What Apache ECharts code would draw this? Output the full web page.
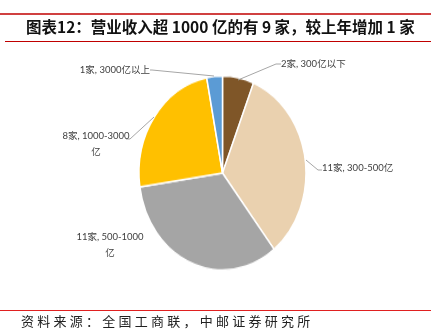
<!DOCTYPE html>
<html>
<head>
<meta charset="utf-8">
<script src="https://cdn.jsdelivr.net/npm/echarts@6/dist/echarts.min.js"></script>
<style>
html,body{margin:0;padding:0;background:#fff;}
#wrap{position:relative;width:434px;height:335px;overflow:hidden;}
#pie{position:absolute;left:0;top:0;width:434px;height:335px;transform:scaleY(1.162);transform-origin:222.5px 173px;}
#c{position:absolute;left:0;top:0;width:434px;height:335px;}
</style>
</head>
<body>
<div id="wrap"><div id="pie"></div><div id="c"></div></div>
<script>
var categories = ['2家, 300亿以下', '11家, 300-500亿', '11家, 500-1000\n亿', '8家, 1000-3000\n亿', '1家, 3000亿以上'];
var counts = [2, 11, 11, 8, 1];
var colors = ['#7F5628', '#EAD1AF', '#A5A5A5', '#FFC000', '#5B9BD5'];

// label layout (text anchor + line points), in px
var labelLayouts = [
  {x: 281, y: 64, align: 'left', line: [[238, 80], [276, 64], [281, 64]]},
  {x: 322, y: 168, align: 'left', line: [[306, 160], [318, 170], [322, 170]]},
  {x: 110, y: 245, align: 'center', line: null},
  {x: 96, y: 144, align: 'center', line: [[154, 117], [130, 139], [126, 139]]},
  {x: 150, y: 70, align: 'right', line: [[214, 76], [152, 70], [150, 70]]}
];

var center = [222.5, 173];
var radius = 83.5;

// pie shapes (rendered, then stretched vertically to the reference ellipse)
var pieChart = echarts.init(document.getElementById('pie'), null, {renderer: 'canvas'});
pieChart.setOption({
  animation: false,
  series: [{
    type: 'pie',
    center: center,
    radius: [0, radius],
    startAngle: 90,
    clockwise: true,
    silent: true,
    data: categories.map(function (c, i) {
      return {name: c, value: counts[i], itemStyle: {color: colors[i]}};
    }),
    itemStyle: {borderColor: '#fff', borderWidth: 1.5},
    label: {show: false},
    labelLine: {show: false}
  }]
});

// overlay: title, rules, labels
var chart = echarts.init(document.getElementById('c'), null, {renderer: 'canvas'});
chart.setOption({
  animation: false,
  backgroundColor: 'transparent',
  title: {
    text: '图表12：营业收入超 1000 亿的有 9 家，较上年增加 1 家',
    left: 21,
    top: 14,
    textStyle: {fontFamily: 'Noto Sans CJK SC', fontSize: 15.5, fontWeight: 'bold', color: '#111'}
  },
  graphic: [
    {type: 'line', shape: {x1: 0, y1: 14, x2: 431, y2: 14}, style: {stroke: '#C00000', lineWidth: 1.5}},
    {type: 'line', shape: {x1: 5, y1: 41.5, x2: 431, y2: 41.5}, style: {stroke: '#C00000', lineWidth: 1}},
    {type: 'line', shape: {x1: 0, y1: 310.5, x2: 431, y2: 310.5}, style: {stroke: '#E02020', lineWidth: 1}},
    {type: 'text', left: 21, top: 315, style: {text: '资\u2005料\u2005来\u2005源\u2005：\u2005全\u2005国\u2005工\u2005商\u2005联\u2005，\u2005中\u2005邮\u2005证\u2005券\u2005研\u2005究\u2005所', font: '13px "Noto Sans CJK SC"', fill: '#222'}}
  ],
  series: [{
    type: 'pie',
    center: center,
    radius: [0, radius],
    startAngle: 90,
    clockwise: true,
    silent: true,
    data: categories.map(function (c, i) {
      return {name: c, value: counts[i], labelLine: {show: labelLayouts[i].line !== null}};
    }),
    itemStyle: {color: 'transparent', borderWidth: 0},
    label: {
      show: true,
      formatter: '{b}',
      fontFamily: 'Lato, "Noto Sans CJK SC"',
      fontSize: 9.5,
      lineHeight: 16,
      color: '#404040',
      overflow: 'none'
    },
    labelLine: {show: true, lineStyle: {color: '#A6A6A6', width: 1}},
    labelLayout: function (params) {
      var L = labelLayouts[params.dataIndex];
      var r = {x: L.x, y: L.y, align: L.align, verticalAlign: 'middle'};
      if (L.line) r.labelLinePoints = L.line;
      return r;
    }
  }]
});
</script>
</body>
</html>
